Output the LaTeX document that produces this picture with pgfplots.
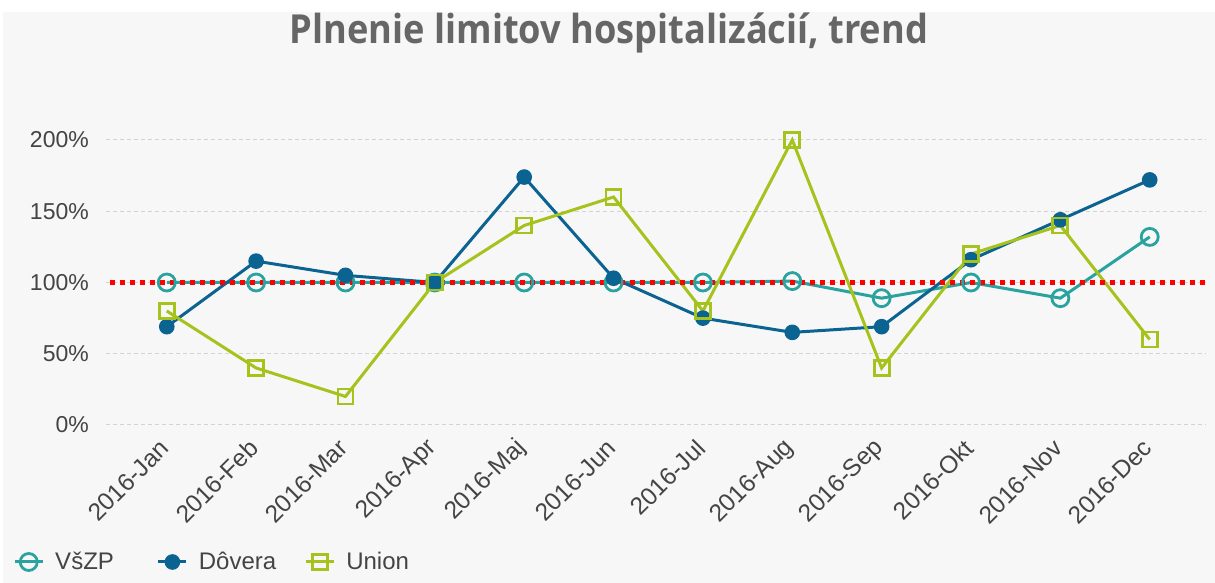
\documentclass[border=0pt]{standalone}
\usepackage{graphicx}
\usepackage{pgfplots}
\pgfplotsset{compat=1.18}
\usepackage{fontspec}
\setmainfont{Liberation Sans}
\newfontfamily\titlefont{Open Sans}
\definecolor{bg}{HTML}{F7F7F7}
\definecolor{vszp}{HTML}{2AA3A0}
\definecolor{dovera}{HTML}{0B6392}
\definecolor{union}{HTML}{A6C21C}
\definecolor{titlegray}{HTML}{666666}
\definecolor{ticklab}{HTML}{444444}
\definecolor{gridc}{HTML}{D3D3D3}
\begin{document}
\begin{tikzpicture}
\useasboundingbox (0,0) rectangle (1215pt,583pt);
\fill[white] (0,0) rectangle (1215pt,583pt);
\fill[bg] (3pt,0) rectangle (1215pt,571pt);
\node[anchor=base, text=titlegray, inner sep=0pt] at (609pt,539pt)
  {\scalebox{0.905}[1]{\titlefont\bfseries\fontsize{40}{46}\selectfont Plnenie limitov hospitalizácií, trend}};
\begin{axis}[
  at={(106pt,158pt)}, anchor=south west,
  width=1100pt, height=285pt, scale only axis,
  xmin=-0.68, xmax=11.63, ymin=0, ymax=200,
  clip=false,
  axis line style={draw=none},
  major tick length=0pt,
  ymajorgrids,
  grid style={gridc, line width=1pt, dash pattern=on 4pt off 3pt},
  ytick={0,50,100,150,200},
  yticklabels={0\%,50\%,100\%,150\%,200\%},
  xtick={0,...,11},
  xticklabels={2016-Jan,2016-Feb,2016-Mar,2016-Apr,2016-Maj,2016-Jun,2016-Jul,2016-Aug,2016-Sep,2016-Okt,2016-Nov,2016-Dec},
  ticklabel style={text=ticklab},
  yticklabel style={font=\fontsize{23}{27}\selectfont, anchor=east, inner sep=0pt, xshift=-17pt},
  xticklabel style={font=\fontsize{24.5}{28}\selectfont, inner sep=0pt, xshift=-2pt, yshift=-19pt, rotate=45, anchor=east},
  legend columns=3,
  legend style={at={(-0.0845,-0.4807)}, anchor=west, draw=none, fill=none,
    inner sep=0pt, font=\fontsize{24}{28}\selectfont, text=ticklab,
    nodes={inner xsep=11pt, inner ysep=0pt},
    /tikz/column 2/.style={column sep=32pt},
    /tikz/column 4/.style={column sep=17pt}},
  legend image code/.code={\draw[mark repeat=2,mark phase=2] plot coordinates {(0pt,0pt) (14pt,0pt) (28pt,0pt)};},
]
\addplot[vszp, line width=3pt, mark=o, mark size=8.5pt, mark options={line width=2.8pt}]
  coordinates {(0,100) (1,100) (2,100) (3,100) (4,100) (5,100) (6,100) (7,101) (8,89) (9,100) (10,89) (11,132)};
\addlegendentry{VšZP}
\addplot[dovera, line width=3pt, mark=*, mark size=6.3pt]
  coordinates {(0,69) (1,115) (2,105) (3,100) (4,174) (5,103) (6,75) (7,65) (8,69) (9,116) (10,144) (11,172)};
\addlegendentry{Dôvera}
\addplot[union, line width=3pt, mark=square, mark size=7.5pt, mark options={line width=2.8pt}]
  coordinates {(0,80) (1,40) (2,20) (3,100) (4,140) (5,160) (6,80) (7,200) (8,40) (9,120) (10,140) (11,60)};
\addlegendentry{Union}
\addplot[red, line width=4.5pt, dash pattern=on 5pt off 5pt, forget plot]
  coordinates {(-0.64,100) (11.63,100)};
\end{axis}
\end{tikzpicture}
\end{document}
